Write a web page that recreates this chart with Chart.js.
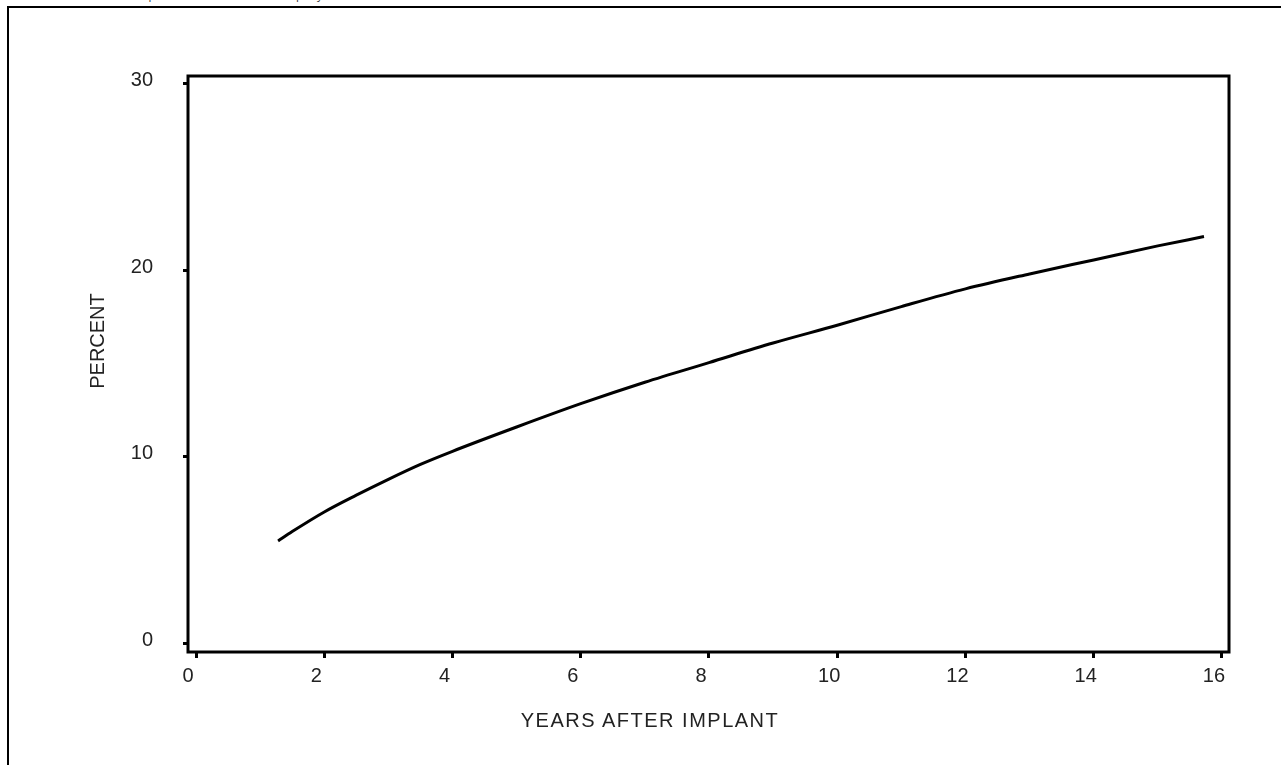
<!DOCTYPE html>
<html>
<head>
<meta charset="utf-8">
<script src="https://cdn.jsdelivr.net/npm/chart.js@4/dist/chart.umd.min.js"></script>
<style>
  html, body { margin: 0; padding: 0; background: #fff; overflow: hidden; }
  #wrap { position: relative; width: 1281px; height: 765px; }
  #note { position: absolute; left: 95px; top: -13px; font: 11.5px "Open Sans", sans-serif; color: #333; white-space: nowrap; }
  #frame { position: absolute; left: 7px; top: 6px; width: 1400px; height: 900px; border-left: 2px solid #000; border-top: 2px solid #000; }
  #xtitle { position: absolute; left: 450px; width: 400px; top: 709px; text-align: center; font: 20px "Liberation Sans", Arial, sans-serif; letter-spacing: 1.5px; color: #222; }
  canvas { position: absolute; left: 0; top: 0; }
</style>
</head>
<body>
<div id="wrap">
  <div id="note">data, it implies a fracture risk of 1.4% per year.</div>
  <div id="frame"></div>
  <canvas id="chart" width="1281" height="765"></canvas>
  <div id="xtitle">YEARS AFTER IMPLANT</div>
</div>
<script>
// datos
const years = [1.28, 1.5, 2, 2.5, 3, 3.5, 4, 5, 6, 7, 8, 9, 10, 11, 12, 13, 14, 15, 15.72];
const percent = [5.5, 6.0, 7.05, 7.95, 8.8, 9.6, 10.3, 11.6, 12.85, 14.0, 15.05, 16.1, 17.05, 18.05, 19.0, 19.8, 20.55, 21.3, 21.8];

const xTicks = [0, 2, 4, 6, 8, 10, 12, 14, 16];
const yTicks = [0, 10, 20, 30];

const yTitle = 'PERCENT';

const labelFont = { family: '"Liberation Sans", Arial, sans-serif', size: 20 };
const textColor = '#222';

// marco del area del grafico y titulo del eje y
const framePlugin = {
    id: 'frame',
    afterDraw(chart) {
        const { ctx, chartArea } = chart;
        ctx.save();
        ctx.strokeStyle = '#000';
        ctx.lineWidth = 3;
        ctx.strokeRect(chartArea.left, chartArea.top, chartArea.right - chartArea.left, chartArea.bottom - chartArea.top);

        ctx.fillStyle = textColor;
        ctx.font = `${labelFont.size}px ${labelFont.family}`;
        ctx.textAlign = 'center';
        ctx.textBaseline = 'middle';
        ctx.translate(chartArea.left - 90, chartArea.top + 265);
        ctx.rotate(-Math.PI / 2);
        ctx.fillText(yTitle, 0, 0);
        ctx.restore();
    }
};

new Chart(document.getElementById('chart'), {
    type: 'line',
    data: {
        datasets: [{
            data: years.map((x, i) => ({ x: x, y: percent[i] })),
            borderColor: '#000',
            borderWidth: 3,
            pointRadius: 0,
            fill: false,
            cubicInterpolationMode: 'monotone'
        }]
    },
    options: {
        responsive: false,
        animation: false,
        layout: { padding: { left: 0, top: 76, right: 52, bottom: 0 } },
        plugins: { legend: { display: false }, tooltip: { enabled: false } },
        scales: {
            x: {
                type: 'linear',
                min: -0.125,
                max: 16.11,
                afterBuildTicks: (scale) => { scale.ticks = xTicks.map(v => ({ value: v })); },
                afterFit: (scale) => { scale.height = 113; },
                grid: { drawOnChartArea: false, color: '#000', lineWidth: 3, tickLength: 6 },
                border: { display: false },
                ticks: { font: labelFont, color: textColor, padding: 6, labelOffset: -8, maxRotation: 0 }
            },
            y: {
                min: -0.45,
                max: 30.4,
                afterBuildTicks: (scale) => { scale.ticks = yTicks.map(v => ({ value: v })); },
                afterFit: (scale) => { scale.width = 188; },
                grid: { drawOnChartArea: false, color: '#000', lineWidth: 3, tickLength: 5 },
                border: { display: false },
                ticks: { font: labelFont, color: textColor, padding: 30, labelOffset: -3 }
            }
        }
    },
    plugins: [framePlugin]
});
</script>
</body>
</html>
